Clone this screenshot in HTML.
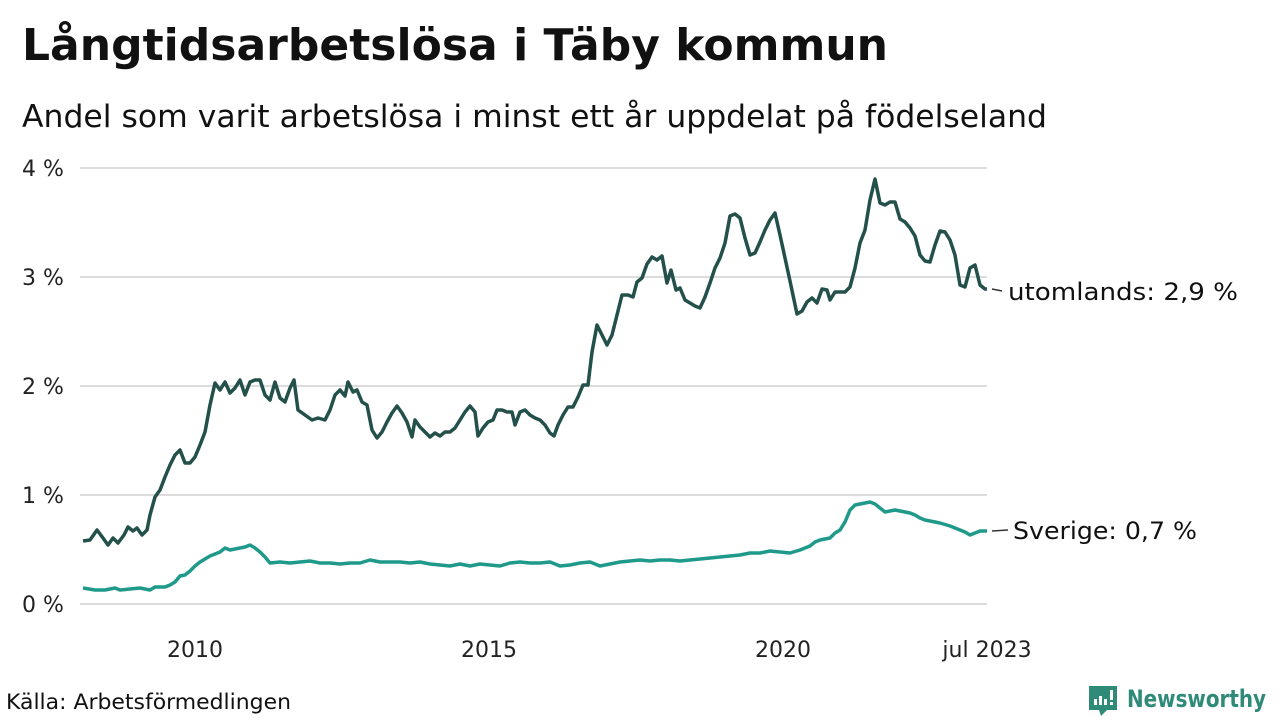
<!DOCTYPE html>
<html><head><meta charset="utf-8"><style>
body{margin:0;width:1280px;height:720px;background:#fff;overflow:hidden;font-family:"DejaVu Sans","Liberation Sans",sans-serif;}
</style></head><body>
<svg width="1280" height="720" xmlns="http://www.w3.org/2000/svg" font-family="DejaVu Sans, Liberation Sans, sans-serif">
<text x="22" y="60" font-size="44" font-weight="bold" fill="#111" textLength="866" lengthAdjust="spacingAndGlyphs">Långtidsarbetslösa i Täby kommun</text>
<text x="22" y="127" font-size="31" fill="#111" textLength="1025" lengthAdjust="spacingAndGlyphs">Andel som varit arbetslösa i minst ett år uppdelat på födelseland</text>
<g stroke="#dcdcdc" stroke-width="2">
<line x1="80" y1="168" x2="987" y2="168"/><line x1="80" y1="277" x2="987" y2="277"/><line x1="80" y1="386" x2="987" y2="386"/><line x1="80" y1="495" x2="987" y2="495"/><line x1="80" y1="604" x2="987" y2="604"/>
</g>
<g font-size="22" fill="#222">
<text x="22" y="176">4 %</text><text x="22" y="285">3 %</text><text x="22" y="394">2 %</text><text x="22" y="503">1 %</text><text x="22" y="612">0 %</text>
<text x="195" y="657" text-anchor="middle">2010</text><text x="489" y="657" text-anchor="middle">2015</text><text x="783" y="657" text-anchor="middle">2020</text><text x="987" y="657" text-anchor="middle">jul 2023</text>
</g>
<polyline fill="none" stroke="#23504a" stroke-width="3.5" stroke-linejoin="round" points="83,541 90,540 97,530 103,538 108,545 113,538 118,543 124,535 128,527 133,531 137,528 142,535 147,530 150,515 155,497 160,490 165,477 170,465 175,455 180,450 185,463 190,463 195,457 200,445 205,432 210,405 215,383 220,390 225,382 230,393 235,388 240,380 245,395 250,382 255,380 260,380 265,395 270,400 275,382 280,398 285,402 290,388 294,380 298,410 305,415 312,420 318,418 325,420 330,410 335,395 340,390 345,396 348,382 353,392 357,390 362,402 367,405 372,430 377,438 382,432 387,422 392,413 397,406 402,413 407,422 412,437 415,420 420,427 425,432 430,437 435,433 440,436 445,432 450,432 455,428 460,420 465,412 470,406 475,412 478,436 483,428 488,422 493,420 497,410 502,410 507,412 512,412 515,425 520,412 525,410 530,415 535,418 540,420 545,425 550,433 554,436 558,425 563,415 568,407 573,407 578,397 583,385 588,385 592,352 597,325 602,335 607,345 612,335 617,315 622,295 628,295 633,297 637,282 642,278 647,264 652,257 657,260 662,256 667,283 671,270 676,290 680,288 685,300 690,303 695,306 700,308 705,297 710,283 715,268 720,258 725,243 730,216 735,214 740,218 745,238 750,255 755,253 760,242 765,230 770,220 775,213 780,235 785,258 790,281 797,314 802,311 807,302 812,298 817,303 822,289 827,290 830,300 835,292 840,292 845,292 850,287 855,268 860,243 865,230 870,200 875,179 880,203 885,205 890,202 895,202 900,219 905,222 910,228 915,236 920,255 925,261 930,262 935,245 940,231 945,232 950,240 955,255 960,285 965,287 970,268 975,265 980,285 985,289 987,289"/>
<polyline fill="none" stroke="#1f9a8a" stroke-width="3.5" stroke-linejoin="round" points="83,588 95,590 105,590 115,588 120,590 130,589 140,588 150,590 155,587 165,587 170,585 175,582 180,576 185,575 190,571 195,566 200,562 210,556 220,552 225,548 230,550 240,548 245,547 250,545 255,548 260,552 265,557 270,563 280,562 290,563 300,562 310,561 320,563 330,563 340,564 350,563 360,563 370,560 380,562 390,562 400,562 410,563 420,562 430,564 440,565 450,566 460,564 470,566 480,564 490,565 500,566 510,563 520,562 530,563 540,563 550,562 560,566 570,565 580,563 590,562 600,566 610,564 620,562 630,561 640,560 650,561 660,560 670,560 680,561 690,560 700,559 710,558 720,557 730,556 740,555 750,553 760,553 770,551 780,552 790,553 800,550 810,546 815,542 820,540 830,538 835,533 840,530 845,522 850,510 855,505 860,504 865,503 870,502 875,504 880,508 885,512 890,511 895,510 900,511 910,513 915,515 920,518 925,520 930,521 940,523 950,526 955,528 960,530 965,532 970,535 975,533 980,531 987,531"/>
<line x1="992" y1="289" x2="1002" y2="291" stroke="#333" stroke-width="1.5"/>
<line x1="992" y1="531" x2="1008" y2="530" stroke="#333" stroke-width="1.5"/>
<text x="1008" y="300" font-size="24" fill="#111" textLength="230" lengthAdjust="spacingAndGlyphs">utomlands: 2,9 %</text>
<text x="1013" y="539" font-size="24" fill="#111" textLength="184" lengthAdjust="spacingAndGlyphs">Sverige: 0,7 %</text>
<text x="6" y="709" font-size="21" fill="#111" textLength="285" lengthAdjust="spacingAndGlyphs">Källa: Arbetsförmedlingen</text>
<g fill="#2f8b78">
<path d="M1089 686 h28 v24 h-10 l-6 6 l-2 -6 h-10 z"/>
</g>
<g fill="#fff"><rect x="1094" y="699" width="3" height="6"/><rect x="1099" y="696" width="3" height="9"/><rect x="1104" y="699" width="3" height="6"/><rect x="1110" y="690" width="3" height="10"/><rect x="1110" y="702" width="3" height="3"/></g>
<text x="1127" y="707" font-size="24" font-weight="bold" fill="#2f8b78" textLength="139" lengthAdjust="spacingAndGlyphs">Newsworthy</text>
</svg>
</body></html>
